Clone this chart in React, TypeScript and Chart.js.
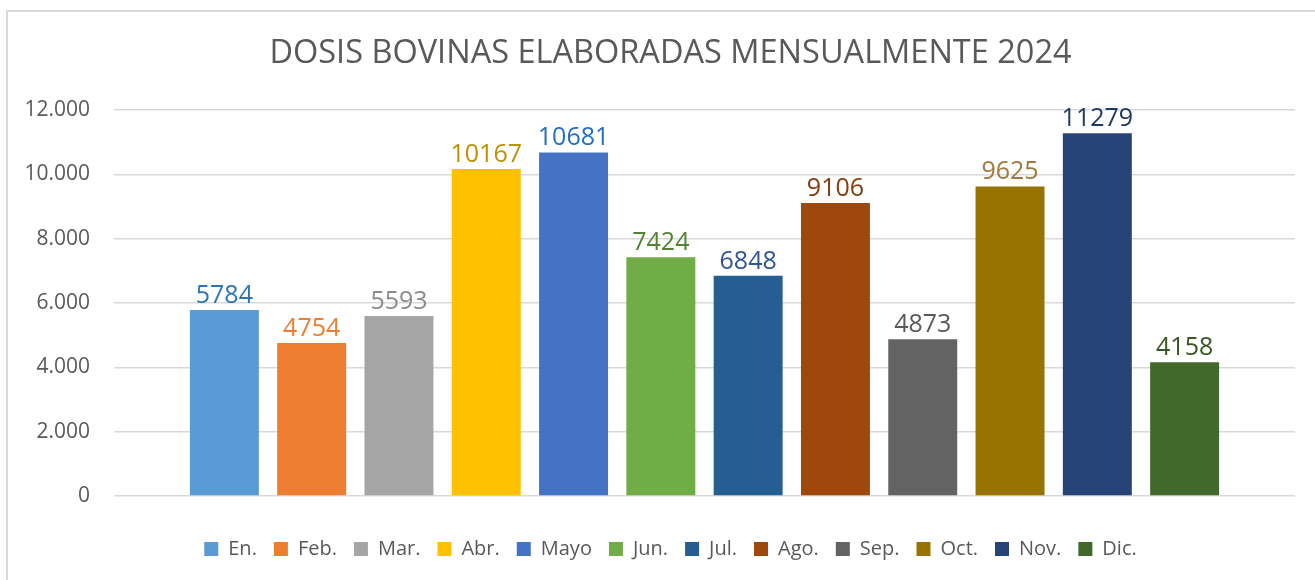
import React, { useEffect, useRef } from "react";
import { Chart, registerables } from "chart.js";

Chart.register(...registerables);

const titleText = "DOSIS BOVINAS ELABORADAS MENSUALMENTE 2024";
const categories = [""];
const months = ["En.", "Feb.", "Mar.", "Abr.", "Mayo", "Jun.", "Jul.", "Ago.", "Sep.", "Oct.", "Nov.", "Dic."];
const values = [5784, 4754, 5593, 10167, 10681, 7424, 6848, 9106, 4873, 9625, 11279, 4158];
const barColors = [
  "#5B9BD5", "#ED7D31", "#A5A5A5", "#FFC000", "#4472C4", "#70AD47",
  "#255E91", "#9E480E", "#636363", "#997300", "#264478", "#43682B",
];
const labelColors = [
  "#2E75B6", "#ED7D31", "#8C8C8C", "#BF9000", "#1F6FC5", "#548235",
  "#2F5597", "#843C0C", "#595959", "#A07A3C", "#1F3864", "#375623",
];
const yTickValues = [0, 2000, 4000, 6000, 8000, 10000, 12000];

const FONT = "'Open Sans', sans-serif";
const TEXT = "#595959";

function formatThousands(v: number): string {
  return String(v).replace(/\B(?=(\d{3})+(?!\d))/g, ".");
}

const valueLabels = {
  id: "valueLabels",
  afterDatasetsDraw(chart: any) {
    const ctx = chart.ctx;
    ctx.save();
    ctx.font = `25px ${FONT}`;
    ctx.textAlign = "center";
    ctx.textBaseline = "alphabetic";
    chart.data.datasets.forEach((ds: any, i: number) => {
      const meta = chart.getDatasetMeta(i);
      meta.data.forEach((el: any, j: number) => {
        ctx.fillStyle = labelColors[i];
        ctx.fillText(String(ds.data[j]), el.x, el.y - 7);
      });
    });
    ctx.restore();
  },
};

const CANVAS_W = 1340;

export default function App() {
  const ref = useRef<HTMLCanvasElement | null>(null);

  useEffect(() => {
    if (!ref.current) return;
    const chart = new Chart(ref.current, {
      type: "bar",
      data: {
        labels: categories,
        datasets: months.map((m, i) => ({
          label: m,
          data: [values[i]],
          backgroundColor: barColors[i],
          borderWidth: 0,
          categoryPercentage: 0.887,
          barPercentage: 0.79,
          yAxisID: "y",
        })),
      },
      options: {
        responsive: false,
        animation: false,
        devicePixelRatio: 1,
        layout: { padding: { left: 8, right: 7, top: 0, bottom: 11 } },
        plugins: {
          title: {
            display: true,
            text: titleText,
            color: TEXT,
            font: { family: FONT, size: 32.5, weight: "normal", lineHeight: 1.2 },
            padding: { top: 34, bottom: 37 },
          },
          legend: {
            position: "bottom",
            labels: {
              color: TEXT,
              font: { family: FONT, size: 20 },
              boxWidth: 14,
              boxHeight: 14,
              padding: 17,
            },
          },
          tooltip: { enabled: false },
        },
        scales: {
          x: {
            display: true,
            grid: { display: false },
            border: { display: false },
            ticks: { display: false },
            afterFit: (s: any) => {
              s.height = 26;
            },
          },
          y: {
            position: "left",
            min: 0,
            max: 12000,
            afterBuildTicks: (s: any) => {
              s.ticks = yTickValues.map((v) => ({ value: v }));
            },
            grid: { color: "#D9D9D9", lineWidth: 1.5, drawTicks: false },
            border: { display: false },
            ticks: {
              color: TEXT,
              font: { family: FONT, size: 21 },
              padding: 24,
              callback: (v: any) => formatThousands(Number(v)),
            },
            afterFit: (s: any) => {
              s.width = 106;
            },
          },
          ySpace: {
            type: "linear",
            position: "right",
            display: true,
            grid: { display: false },
            border: { display: false },
            ticks: { display: false },
            afterFit: (s: any) => {
              s.width = 38;
            },
          },
        },
      },
      plugins: [valueLabels],
    });
    return () => chart.destroy();
  }, []);

  return (
    <div style={{ position: "fixed", left: 0, top: 0, width: 1315, height: 580, overflow: "hidden", background: "#fff" }}>
      <div
        style={{
          position: "absolute",
          left: 6,
          top: 10,
          width: 1400,
          height: 700,
          border: "2px solid #D9D9D9",
          boxSizing: "border-box",
        }}
      />
      <canvas
        ref={ref}
        width={CANVAS_W}
        height={580}
        style={{ position: "absolute", left: 0, top: 0, width: CANVAS_W, height: 580 }}
      />
    </div>
  );
}
